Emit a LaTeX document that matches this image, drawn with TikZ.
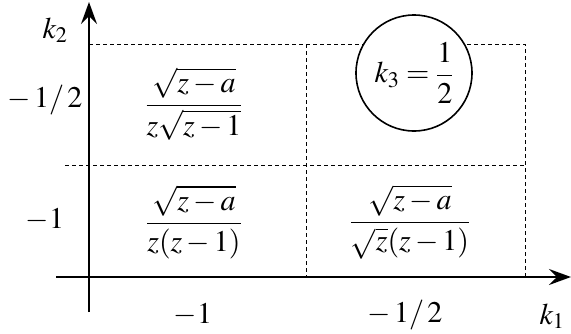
\documentclass[tikz,border=0pt]{standalone}
\usepackage{amsmath}
\usepackage{mathptmx}
\usetikzlibrary{arrows.meta}
\newcommand{\nstrut}{\rule[-7pt]{0pt}{7pt}}
\begin{document}
\begin{tikzpicture}[x=1pt,y=-1pt,
  axis/.style={line width=1.6pt,-{Stealth[length=22pt,width=16pt,inset=8pt]}},
  grid/.style={line width=0.9pt,dash pattern=on 4pt off 3pt},
  lbl/.style={inner sep=0pt,font=\fontsize{30}{36}\selectfont},
  ring/.style={draw,circle,line width=1.6pt,minimum size=116pt,inner sep=0pt,font=\fontsize{30}{36}\selectfont}]
\useasboundingbox (0,0) rectangle (571,333);
% coordinates
\coordinate (xs) at (56,277);
\coordinate (xe) at (571,277);
\coordinate (ys) at (89,312);
\coordinate (ye) at (89,2);
\coordinate (tl) at (89,44);
\coordinate (tr) at (525,44);
\coordinate (ml) at (65,165);
\coordinate (mr) at (525,165);
\coordinate (mt) at (306,44);
\coordinate (mb) at (306,277);
\coordinate (rb) at (525,277);
% grid
\draw[grid] (tl) -- (tr) -- (rb);
\draw[grid] (ml) -- (mr);
\draw[grid] (mt) -- (mb);
% axes
\draw[axis] (xs) -- (xe);
\draw[axis] (ys) -- (ye);
% circle
\node[ring,fill=white] (c) at (414,73) {$k_3=\dfrac{1}{2}$};
% labels
\node[lbl] (k2) at (55,30) {$k_2$};
\node[lbl] (k1) at (552,316) {$k_1$};
\node[lbl] (yh) at (45,100) {$-\,1/\,2$};
\node[lbl] (y1) at (45,220) {$-1$};
\node[lbl] (x1) at (193,315) {$-1$};
\node[lbl] (xh) at (405,315) {$-\,1/\,2$};
\node[lbl] (f1) at (194,104) {$\dfrac{\sqrt{z-a}\nstrut}{z\sqrt{z-1}}$};
\node[lbl] (f2) at (194,222) {$\dfrac{\sqrt{z-a}\nstrut}{z(z-1)}$};
\node[lbl] (f3) at (410,222) {$\dfrac{\sqrt{z-a}\nstrut}{\sqrt{z}(z-1)}$};
\end{tikzpicture}
\end{document}
